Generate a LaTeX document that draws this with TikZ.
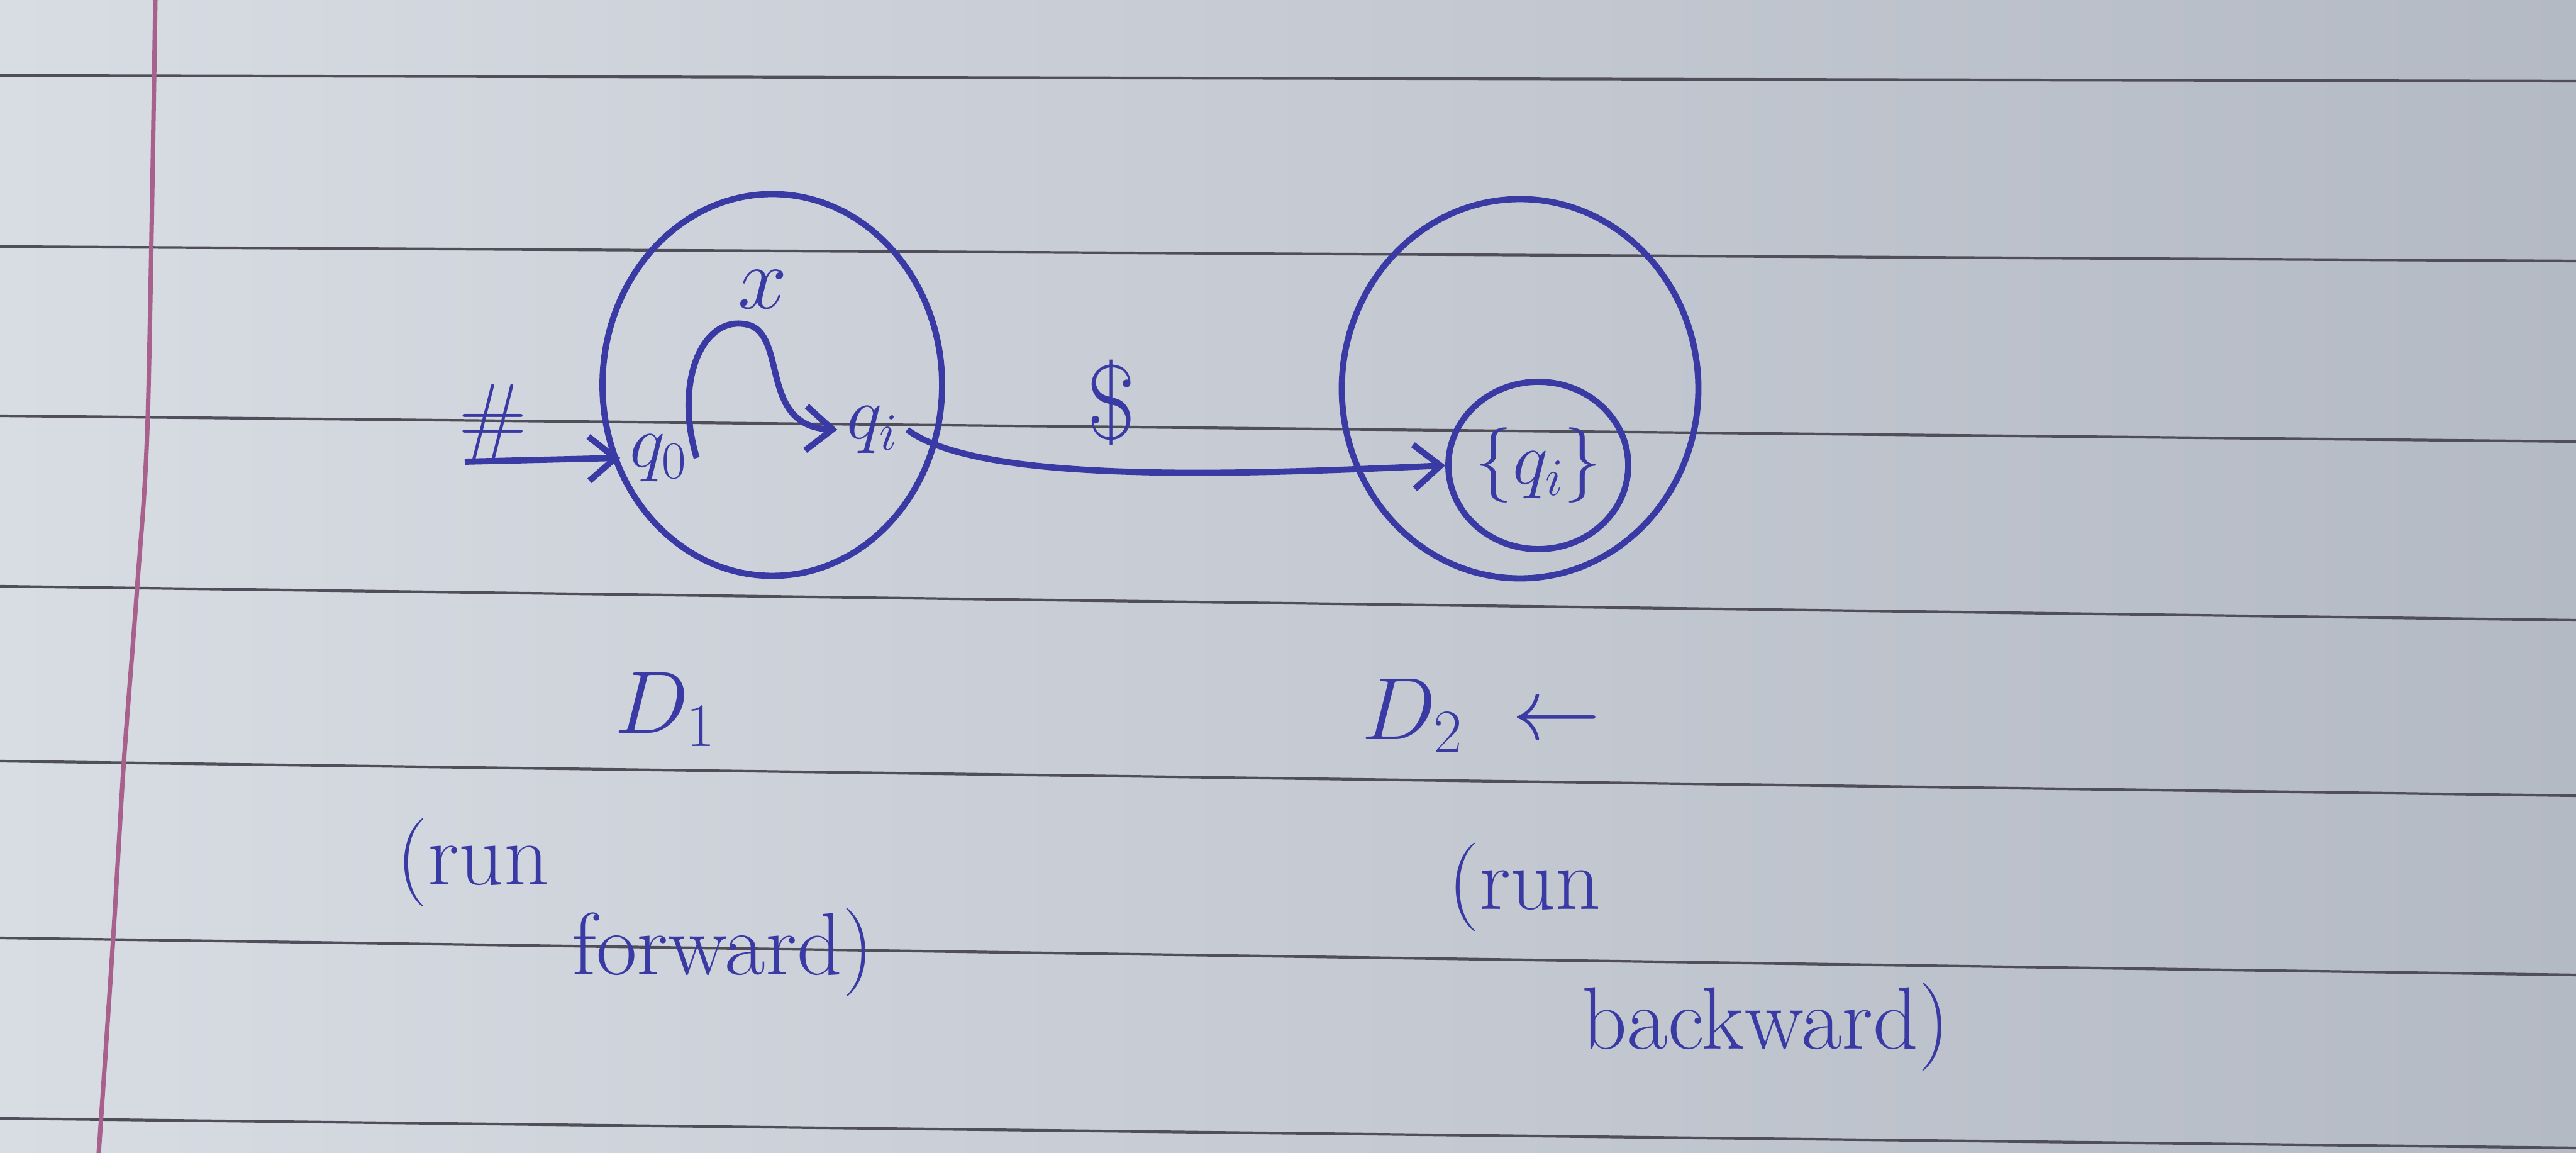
\RequirePackage{fix-cm}
\documentclass[tikz,border=0pt]{standalone}
\usepackage{fontspec}
\usepackage{amsmath}
\usetikzlibrary{shapes.geometric, arrows.meta, positioning}
\definecolor{inchiostro}{RGB}{58,58,165}
\definecolor{carta}{RGB}{216,220,227}
\definecolor{cartascura}{RGB}{180,186,196}
\definecolor{rigo}{RGB}{80,78,90}
\definecolor{margine}{RGB}{168,96,140}

\begin{document}
\begin{tikzpicture}[
  font=\fontsize{40}{48}\selectfont,
  automa/.style={draw=inchiostro, ellipse, line width=2.8pt, inner sep=0pt},
  stato/.style={text=inchiostro, inner sep=4pt, font=\fontsize{34}{40}\selectfont},
  freccia/.style={draw=inchiostro, line width=2.8pt, -{Straight Barb[length=12pt,width=20pt]}},
  didasc/.style={text=inchiostro, inner sep=2pt},
  riga/.style={draw=rigo, line width=1.2pt}
]

% foglio a righe
\shade[left color=carta, right color=cartascura] (0,0) rectangle (40.96,18.33);
\useasboundingbox (0,0) rectangle (40.96,18.33);
\foreach \yl/\yr in {17.13/17.04, 14.41/14.18, 11.72/11.31, 9.01/8.47, 6.23/5.68, 3.42/2.83, 0.55/0.08}
  \draw[riga] (0,\yl) -- (40.96,\yr);
\draw[draw=margine, line width=2pt] plot[smooth] coordinates {(2.47,18.33) (2.35,11.72) (2.18,8.98) (1.97,6.23) (1.80,3.42) (1.57,0)};

% automi
\node[automa, minimum width=5.40cm, minimum height=6.07cm] (d1) at (12.28,12.21) {};
\node[automa, minimum width=5.67cm, minimum height=6.03cm] (d2) at (24.17,12.15) {};

\node[stato] (q0) at (10.47,11.05) {$q_0$};
\node[stato] (qi) at (13.87,11.50) {$q_i$};
\node[stato, automa, minimum width=2.86cm, minimum height=2.66cm] (qf) at (24.46,10.93) {$\{q_i\}$};
\coordinate (inizio) at (7.39,10.99);

\draw[freccia] (inizio) -- (q0.west);
\draw[freccia] (q0.east) .. controls (10.7,12.3) and (11.2,13.4) .. (11.95,13.15)
  .. controls (12.5,12.9) and (12.1,11.55) .. (qi.west);
\draw[freccia] (qi.east) .. controls (15.6,10.6) and (20.0,10.8) .. (qf.west);

\node[didasc] (lbl-h) at (7.84,11.60) {\#};
\node[didasc] (lbl-x) at (12.13,13.73) {$x$};
\node[didasc, font=\fontsize{48}{56}\selectfont] (lbl-d) at (17.67,11.93) {\$};

% didascalie
\node[didasc] (nd1) at (10.58,7.05) {$D_1$};
\node[didasc] (nd2) at (23.55,6.95) {$D_2\;\leftarrow$};
\node[didasc] (run1) at (7.52,4.62) {(run};
\node[didasc] (dir1) at (11.49,3.19) {forward)};
\node[didasc] (run2) at (24.24,4.23) {(run};
\node[didasc] (dir2) at (28.08,2.01) {backward)};

\end{tikzpicture}
\end{document}
